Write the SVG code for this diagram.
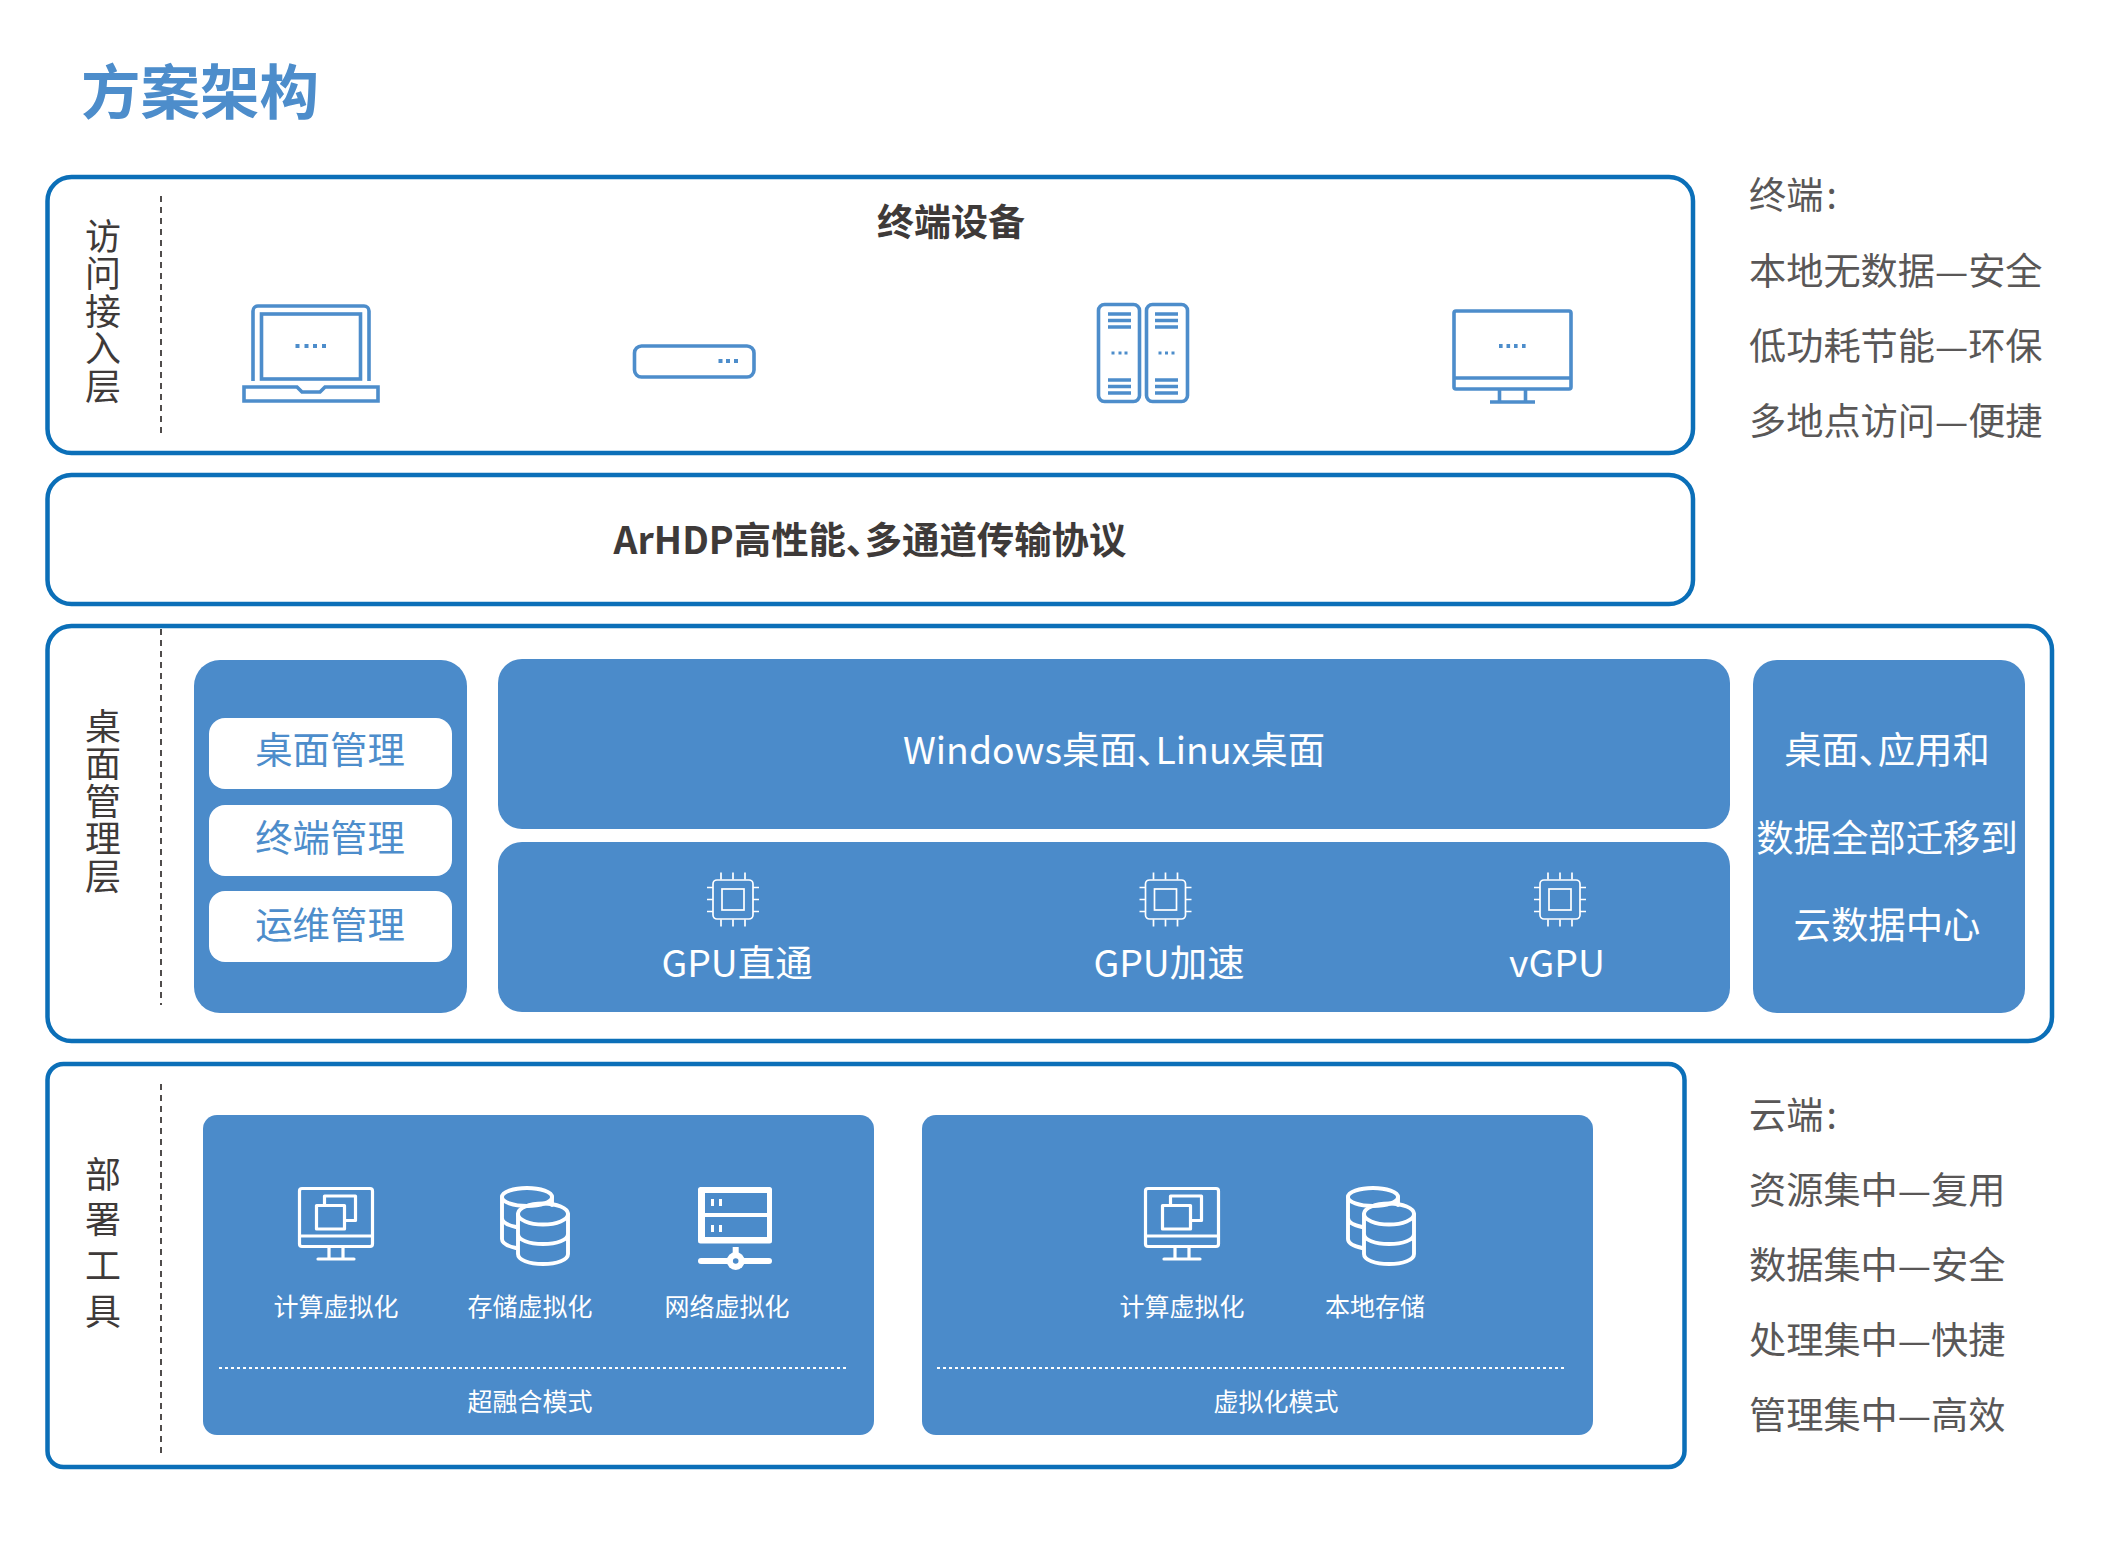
<svg xmlns="http://www.w3.org/2000/svg" width="2105" height="1542" viewBox="0 0 2105 1542">
<style>
text{font-family:"Noto Sans CJK SC","Noto Sans",sans-serif;font-feature-settings:"palt"}
.panel{fill:#fff;stroke:#0b6fb8;stroke-width:4.5}
.fill{fill:#4b8bca}
.white{fill:#fff}
.sep{stroke:#3e3a39;stroke-width:1.8;stroke-dasharray:6 5;fill:none}
.dot{stroke:#fff;stroke-width:2;stroke-dasharray:3 3;fill:none}
.title{fill:#4d8dcb;font-size:59.500px;font-weight:700}
.head{fill:#3e3a39;font-size:37px;font-weight:700;text-anchor:middle}
.proto{fill:#3e3a39;font-size:37.400px;font-weight:700;text-anchor:middle}
.vert{fill:#3e3a39;font-size:36px;font-weight:400;writing-mode:vertical-rl;font-feature-settings:normal}
.side{fill:#595757;font-size:37.200px}
.wt{fill:#fff;font-size:37.400px;font-weight:400;text-anchor:middle}
.bt{fill:#4d8dcb;font-size:37.400px;font-weight:400;text-anchor:middle}
.sm{fill:#fff;font-size:25px;text-anchor:middle}
.ib{fill:none;stroke:#4d8dcb;stroke-width:3.6}
.id{fill:#4d8dcb}
.iw{fill:none;stroke:#fff;stroke-width:3.2;stroke-linecap:round;stroke-linejoin:round}
.iw2{fill:none;stroke:#fff;stroke-width:3.9;stroke-linecap:round;stroke-linejoin:round}
.ic{fill:none;stroke:#fff;stroke-width:1.7}
</style>
<defs>
<g id="chip">
<rect x="-20" y="-19.500" width="40" height="39" rx="4" class="ic"/>
<rect x="-11" y="-10.500" width="22" height="21" class="ic"/>
<path d="M-12-20v-7M0-20v-7M12-20v-7M-12 20v7M0 20v7M12 20v7M-20-12h-6M-20 0h-6M-20 12h-6M20-12h6M20 0h6M20 12h6" class="ic"/>
</g>
<g id="pc">
<rect x="299.500" y="1188.500" width="73" height="58" rx="2.500" class="iw"/>
<path d="M299.500 1236h73M329 1247v11M343 1247v11M318 1259h36" class="iw"/>
<path d="M324.500 1205v-9h31v24.500h-10" class="iw" stroke-linecap="butt"/>
<rect x="316.500" y="1205.500" width="28" height="23.500" class="iw"/>
</g>
<g id="db">
<ellipse cx="527" cy="1197" rx="25" ry="9" class="iw2"/>
<path d="M502 1197v42c0 4 5 7 14 9M502 1218c0 4 5 7 14 9" class="iw2"/>
<path d="M552 1197v8" class="iw2"/>
<ellipse cx="543" cy="1214" rx="25" ry="10.500" class="iw2"/>
<path d="M518 1214v40c0 6 11 10 25 10s25-4 25-10v-40M518 1234c0 6 11 10 25 10s25-4 25-10" class="iw2"/>
</g>
</defs>

<g id="title"><text x="81" y="114" class="title">方案架构</text></g>

<g id="access-layer">
<rect x="47.500" y="177" width="1645.500" height="276" rx="24" class="panel"/>
<text x="103" y="218" class="vert" letter-spacing="1.600">访问接入层</text>
<line x1="161" y1="196" x2="161" y2="433" class="sep"/>
<text x="951" y="236" class="head">终端设备</text>
</g>

<g id="laptop">
<path d="M253 381v-70a5 5 0 0 1 5-5h106a5 5 0 0 1 5 5v70" class="ib"/>
<rect x="261.500" y="314" width="99" height="65" class="ib"/>
<path d="M244 387h53l5 5h18l5-5h53v14h-134z" class="ib"/>
<rect x="295.500" y="344" width="4" height="4" class="id"/><rect x="304.500" y="344" width="4" height="4" class="id"/><rect x="313" y="344" width="4" height="4" class="id"/><rect x="322" y="344" width="4" height="4" class="id"/>
</g>
<g id="thin-client">
<rect x="634.500" y="346" width="119.500" height="31" rx="7" class="ib"/>
<rect x="718.500" y="359" width="4" height="4" class="id"/><rect x="726" y="359" width="4" height="4" class="id"/><rect x="734" y="359" width="4" height="4" class="id"/>
</g>
<g id="servers">
<rect x="1098.500" y="304.500" width="41" height="97" rx="6" class="ib"/>
<rect x="1146.500" y="304.500" width="41" height="97" rx="6" class="ib"/>
<path d="M1108 314h23M1108 320.500h23M1108 327h23M1108 380h23M1108 386.500h23M1108 393h23M1155 314h23M1155 320.500h23M1155 327h23M1155 380h23M1155 386.500h23M1155 393h23" class="ib"/>
<rect x="1111.500" y="351.500" width="3" height="3" class="id"/><rect x="1118.500" y="351.500" width="3" height="3" class="id"/><rect x="1124.500" y="351.500" width="3" height="3" class="id"/><rect x="1158.500" y="351.500" width="3" height="3" class="id"/><rect x="1165" y="351.500" width="3" height="3" class="id"/><rect x="1171.500" y="351.500" width="3" height="3" class="id"/>
</g>
<g id="desktop">
<rect x="1454" y="311" width="117" height="78" rx="2" class="ib"/>
<path d="M1454 378h117M1499.500 389v12M1525.500 389v12M1490 402h45" class="ib"/>
<rect x="1499" y="344" width="3.600" height="4" class="id"/><rect x="1506.500" y="344" width="3.600" height="4" class="id"/><rect x="1514" y="344" width="3.600" height="4" class="id"/><rect x="1522" y="344" width="3.600" height="4" class="id"/>
</g>

<g id="protocol">
<rect x="47.500" y="475" width="1645.500" height="129" rx="24" class="panel"/>
<text x="870" y="554" class="proto">ArHDP高性能、多通道传输协议</text>
</g>

<g id="desktop-layer">
<rect x="47.500" y="626" width="2004.500" height="415" rx="24" class="panel"/>
<text x="103" y="708" class="vert" letter-spacing="1.600">桌面管理层</text>
<line x1="161" y1="629" x2="161" y2="1005" class="sep"/>
</g>

<g id="mgmt">
<rect x="194" y="660" width="273" height="353" rx="26" class="fill"/>
<rect x="209" y="718" width="243" height="71" rx="16" class="white"/>
<rect x="209" y="805" width="243" height="71" rx="16" class="white"/>
<rect x="209" y="891" width="243" height="71" rx="16" class="white"/>
<text x="330" y="764" class="bt">桌面管理</text>
<text x="330" y="852" class="bt">终端管理</text>
<text x="330" y="939" class="bt">运维管理</text>
</g>
<g id="desktops">
<rect x="498" y="659" width="1232" height="170" rx="24" class="fill"/>
<text x="1114" y="764" class="wt">Windows桌面、Linux桌面</text>
</g>
<g id="gpu">
<rect x="498" y="842" width="1232" height="170" rx="24" class="fill"/>
<use href="#chip" x="733" y="899.500"/>
<use href="#chip" x="1165.500" y="899.500"/>
<use href="#chip" x="1560" y="899.500"/>
<text x="737" y="977" class="wt">GPU直通</text>
<text x="1169" y="977" class="wt">GPU加速</text>
<text x="1557" y="977" class="wt">vGPU</text>
</g>
<g id="migrate">
<rect x="1753" y="660" width="272" height="353" rx="24" class="fill"/>
<text x="1887" y="764" class="wt">桌面、应用和</text>
<text x="1887" y="852" class="wt">数据全部迁移到</text>
<text x="1887" y="939" class="wt">云数据中心</text>
</g>

<g id="deploy-layer">
<rect x="47.500" y="1064" width="1637" height="403" rx="16" class="panel"/>
<text x="103" y="1156" class="vert" letter-spacing="9.700">部署工具</text>
<line x1="161" y1="1084" x2="161" y2="1455" class="sep"/>
</g>

<g id="hyperconverged">
<rect x="203" y="1115" width="671" height="320" rx="14" class="fill"/>
<use href="#pc"/>
<use href="#db"/>
<g id="net-icon">
<rect x="698" y="1187" width="74" height="56.500" rx="2.500" class="white"/>
<rect x="705" y="1193" width="62" height="20" class="fill"/>
<rect x="705" y="1217" width="62" height="20" class="fill"/>
<path d="M711 1199h3v7h-3zM719 1199h3v7h-3zM711 1225h3v7h-3zM719 1225h3v7h-3z" class="white"/>
<rect x="732.700" y="1247" width="6" height="9" class="white"/>
<rect x="698" y="1258" width="74" height="6" rx="3" class="white"/>
<circle cx="735.700" cy="1261" r="9" class="white"/>
<circle cx="735.700" cy="1261" r="2.800" class="fill"/>
</g>
<text x="336" y="1316" class="sm">计算虚拟化</text>
<text x="530" y="1316" class="sm">存储虚拟化</text>
<text x="727" y="1316" class="sm">网络虚拟化</text>
<line x1="219" y1="1368" x2="849" y2="1368" class="dot"/>
<text x="530" y="1411" class="sm">超融合模式</text>
</g>
<g id="virtualized">
<rect x="922" y="1115" width="671" height="320" rx="14" class="fill"/>
<use href="#pc" x="846"/>
<use href="#db" x="846"/>
<text x="1182" y="1316" class="sm">计算虚拟化</text>
<text x="1375" y="1316" class="sm">本地存储</text>
<line x1="937" y1="1368" x2="1566" y2="1368" class="dot"/>
<text x="1276" y="1411" class="sm">虚拟化模式</text>
</g>

<g id="terminal-notes">
<text x="1749" y="209" class="side">终端<tspan dx="3">:</tspan></text>
<text x="1749" y="285" class="side">本地无数据—安全</text>
<text x="1749" y="360" class="side">低功耗节能—环保</text>
<text x="1749" y="435" class="side">多地点访问—便捷</text>
</g>
<g id="cloud-notes">
<text x="1749" y="1129" class="side">云端<tspan dx="3">:</tspan></text>
<text x="1749" y="1204" class="side">资源集中—复用</text>
<text x="1749" y="1279" class="side">数据集中—安全</text>
<text x="1749" y="1354" class="side">处理集中—快捷</text>
<text x="1749" y="1429" class="side">管理集中—高效</text>
</g>
</svg>
